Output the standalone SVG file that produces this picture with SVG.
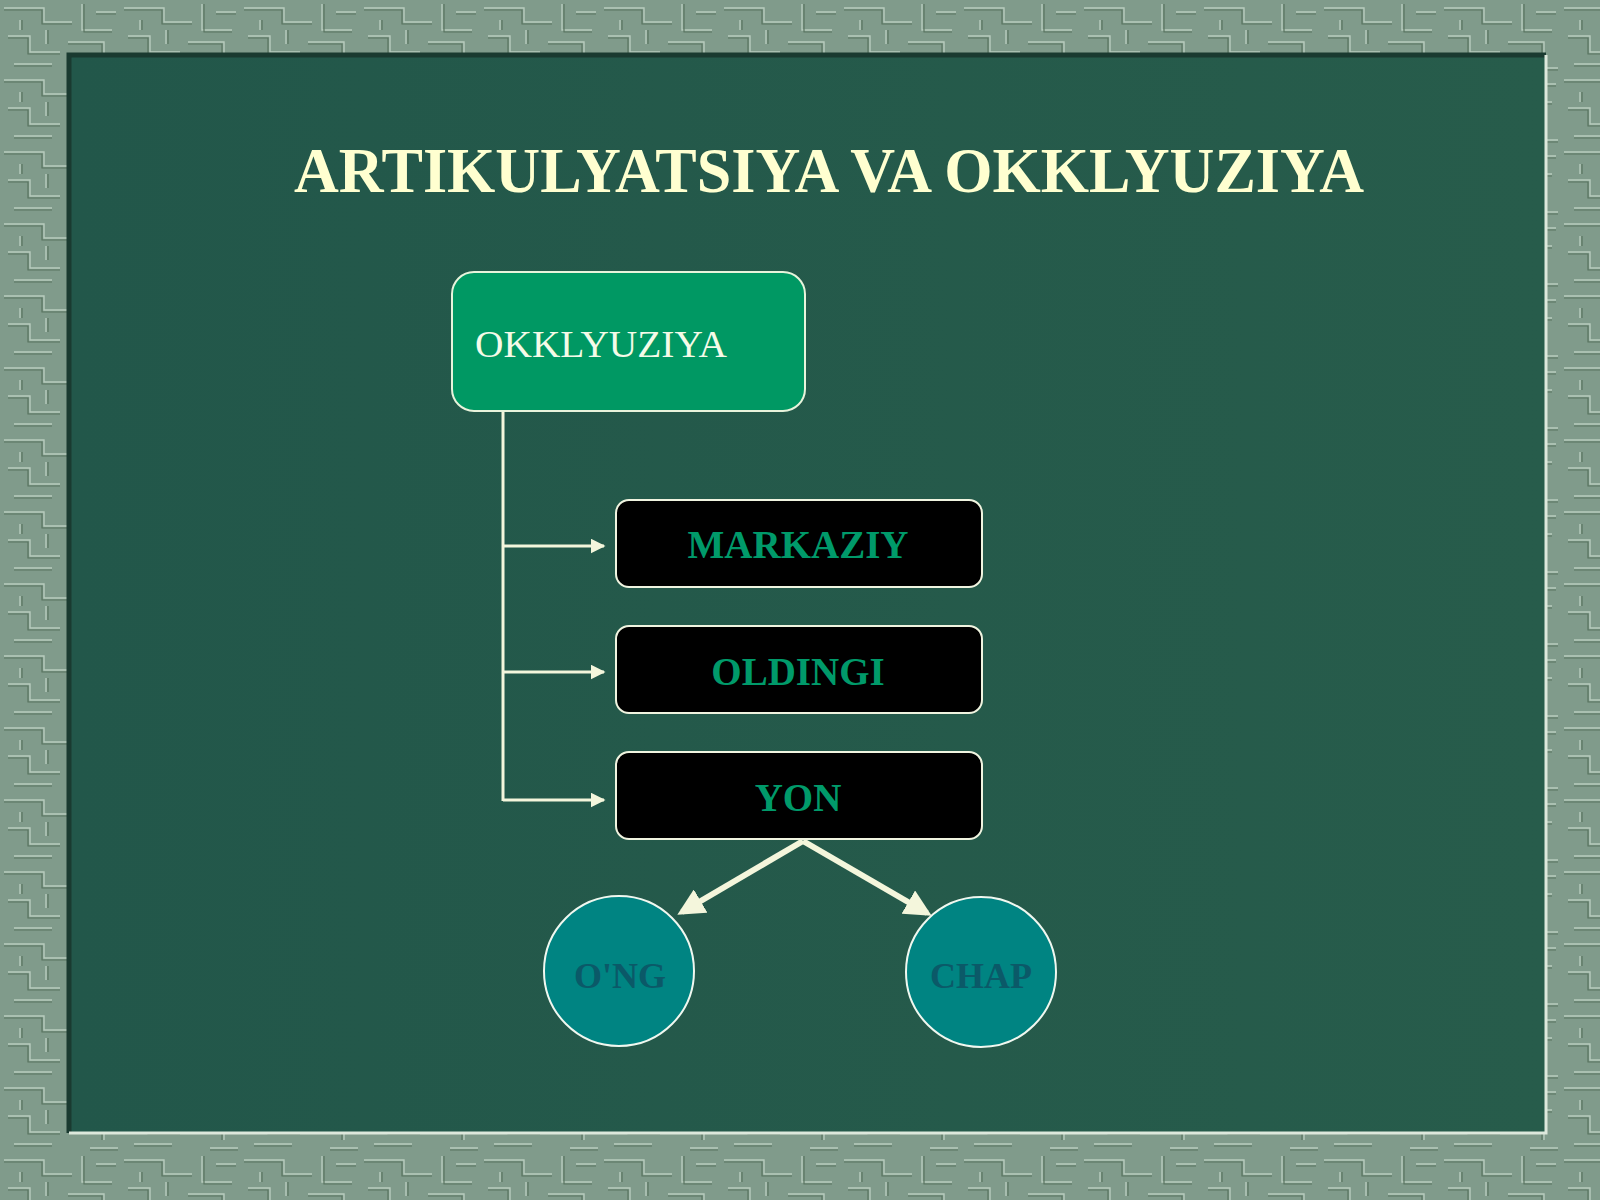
<svg xmlns="http://www.w3.org/2000/svg" width="1600" height="1200" viewBox="0 0 1600 1200">
<defs>
<pattern id="circuit" width="120" height="72" patternUnits="userSpaceOnUse">
<rect width="120" height="72" fill="#809b8b"/>
<g fill="none" stroke="#b8ccbe" stroke-width="1.4">
<path d="M4 8 H44 V22 H72 M82 4 V30 H112 M8 36 H30 V52 H60 M68 42 H104 V60 M14 64 H52 M90 68 H118 M46 30 V44 M96 12 H116 M20 20 V30"/>
</g>
<g fill="none" stroke="#58735f" stroke-width="1.2">
<path d="M4 10 H42 V24 H72 M84 4 V32 H112 M8 38 H28 V54 H60 M68 44 H102 V60 M14 66 H52 M90 70 H118 M48 30 V44 M96 14 H116 M22 20 V30"/>
</g>
</pattern>
<marker id="ah" viewBox="0 0 10 10" refX="9" refY="5" markerWidth="5" markerHeight="5" markerUnits="strokeWidth" orient="auto">
<path d="M0 0 L10 5 L0 10 Z" fill="#f4f6dc"/>
</marker>
<marker id="ahb" viewBox="0 0 10 10" refX="8" refY="5" markerWidth="4.5" markerHeight="4.5" markerUnits="strokeWidth" orient="auto">
<path d="M0 0 L10 5 L0 10 Z" fill="#f4f6dc"/>
</marker>
<linearGradient id="panelg" x1="0" y1="0" x2="1" y2="0">
<stop offset="0" stop-color="#22574a"/>
<stop offset="1" stop-color="#275c4b"/>
</linearGradient>
</defs>
<style>
.title{font-family:"Liberation Serif","Times New Roman",serif;font-weight:bold;font-size:63px;fill:#ffffd0}
.lbl{font-family:"Liberation Serif","Times New Roman",serif;font-size:38px;fill:#f4fbe8}
.blk{fill:#000;stroke:#f0f4e0;stroke-width:2}
.blt{font-family:"Liberation Serif","Times New Roman",serif;font-weight:bold;font-size:39px;fill:#009a6a;text-anchor:middle}
.circ{fill:#008482;stroke:#f0f8f0;stroke-width:2}
.ct{font-family:"Liberation Serif","Times New Roman",serif;font-weight:bold;font-size:36px;fill:#0e4f62;text-anchor:middle;opacity:0.8}
.conn{fill:none;stroke:#f4f6dc;stroke-width:3}
.conn2{fill:none;stroke:#f4f6dc;stroke-width:6}
</style>
<rect width="1600" height="1200" fill="url(#circuit)"/>
<rect x="69" y="55" width="1477" height="1078" fill="url(#panelg)"/>
<path d="M69 1133 V55 H1546" fill="none" stroke="#1a3a30" stroke-width="5"/>
<path d="M1546 55 V1133 H69" fill="none" stroke="#dde8dc" stroke-width="3"/>
<text class="title" x="829" y="192" text-anchor="middle" textLength="1070" lengthAdjust="spacingAndGlyphs">ARTIKULYATSIYA VA OKKLYUZIYA</text>
<g id="connectors">
<path class="conn" d="M503 411 V801"/>
<path class="conn" d="M503 546 H604" marker-end="url(#ah)"/>
<path class="conn" d="M503 672 H604" marker-end="url(#ah)"/>
<path class="conn" d="M503 800 H604" marker-end="url(#ah)"/>
<path class="conn2" d="M803 841 L682 912" marker-end="url(#ahb)"/>
<path class="conn2" d="M803 841 L927 913" marker-end="url(#ahb)"/>
</g>
<g id="okklyuziya">
<rect x="452" y="272" width="353" height="139" rx="22" fill="#009863" stroke="#e8f4dc" stroke-width="2"/>
<text class="lbl" x="475" y="357" textLength="252" lengthAdjust="spacingAndGlyphs">OKKLYUZIYA</text>
</g>
<g id="markaziy">
<rect class="blk" x="616" y="500" width="366" height="87" rx="13"/>
<text class="blt" x="798" y="558">MARKAZIY</text>
</g>
<g id="oldingi">
<rect class="blk" x="616" y="626" width="366" height="87" rx="13"/>
<text class="blt" x="798" y="685">OLDINGI</text>
</g>
<g id="yon">
<rect class="blk" x="616" y="752" width="366" height="87" rx="13"/>
<text class="blt" x="798" y="811">YON</text>
</g>
<g id="ong">
<circle class="circ" cx="619" cy="971" r="75"/>
<text class="ct" x="620" y="988">O'NG</text>
</g>
<g id="chap">
<circle class="circ" cx="981" cy="972" r="75"/>
<text class="ct" x="981" y="988">CHAP</text>
</g>
</svg>
